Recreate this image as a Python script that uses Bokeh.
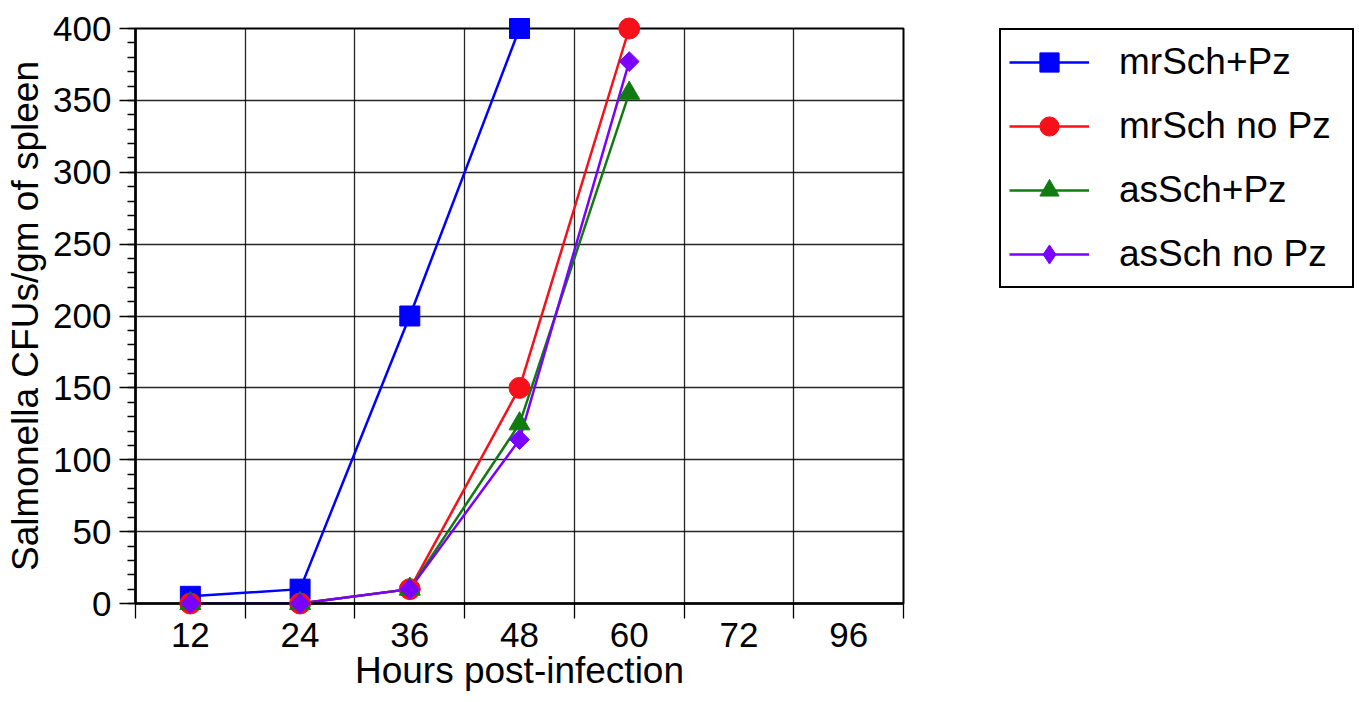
import math
from bokeh.plotting import figure
from bokeh.layouts import row
from bokeh.models import Range1d, FixedTicker, SingleIntervalTicker, Legend, LegendItem
from bokeh.embed import file_html
from bokeh.resources import INLINE

# ---- data ----
hours = ["12", "24", "36", "48", "60", "72", "96"]
mrsch_pz = [5, 10, 200, 400]
mrsch_nopz = [0, 0, 10, 150, 400]
assch_pz = [0, 0, 10, 125, 355]
assch_nopz = [0, 0, 10, 114, 377]
series_names = ["mrSch+Pz", "mrSch no Pz", "asSch+Pz", "asSch no Pz"]

FONT = "Liberation Sans"
blue, red, green, purple = "#0000FF", "#F5101A", "#127A12", "#7A00FF"

p = figure(width=940, height=702, output_backend="svg", toolbar_location=None,
           x_range=Range1d(0, len(hours)), y_range=Range1d(0, 400),
           min_border_left=135, min_border_right=37, min_border_top=28,
           min_border_bottom=99)

pos = {h: i + 0.5 for i, h in enumerate(hours)}
centers = [pos[h] for h in hours]
bounds = list(range(len(hours) + 1))


def xs(vals):
    return [pos[h] for h in hours[:len(vals)]]


# ---- axes ----
xt = FixedTicker(ticks=centers, minor_ticks=bounds)
p.xaxis.ticker = xt
p.xgrid.ticker = xt
p.xaxis.major_label_overrides = {c: h for c, h in zip(centers, hours)}
p.xaxis.major_tick_line_color = None
p.xaxis.major_tick_out = 15
p.xaxis.major_tick_in = 0
p.xaxis.minor_tick_out = 15
p.xaxis.minor_tick_in = 0
p.xaxis.minor_tick_line_color = "black"
p.xaxis.minor_tick_line_width = 1.3
p.xaxis.axis_label = "Hours post-infection"
p.xaxis.major_label_standoff = 4
p.xaxis.axis_label_standoff = 0

yt = SingleIntervalTicker(interval=50, num_minor_ticks=5)
p.yaxis.ticker = yt
p.ygrid.ticker = yt
p.yaxis.major_tick_out = 16
p.yaxis.major_tick_in = 0
p.yaxis.minor_tick_out = 8
p.yaxis.minor_tick_in = 0
p.yaxis.major_tick_line_color = "black"
p.yaxis.minor_tick_line_color = "black"
p.yaxis.major_tick_line_width = 1.3
p.yaxis.minor_tick_line_width = 1.3
p.yaxis.axis_label = "Salmonella CFUs/gm of spleen"
p.yaxis.major_label_standoff = 8
p.yaxis.axis_label_standoff = 4

for ax in (p.xaxis, p.yaxis):
    ax.axis_line_color = "black"
    ax.axis_line_width = 2.5
    ax.major_label_text_font = FONT
    ax.major_label_text_font_size = "35px"
    ax.major_label_text_color = "black"
    ax.axis_label_text_font = FONT
    ax.axis_label_text_font_size = "37px"
    ax.axis_label_text_font_style = "normal"
    ax.axis_label_text_color = "black"

p.xgrid.grid_line_color = None
p.xgrid.minor_grid_line_color = "black"
p.xgrid.minor_grid_line_width = 1.3
p.xgrid.minor_grid_line_alpha = 0.85
p.ygrid.grid_line_color = "black"
p.ygrid.grid_line_width = 1.3
p.ygrid.grid_line_alpha = 0.85

p.outline_line_color = "black"
p.outline_line_width = 2
p.outline_line_alpha = 1

# ---- series (markers on overlay level so they are not cut at the frame) ----
series = [mrsch_pz, mrsch_nopz, assch_pz, assch_nopz]
colors = [blue, red, green, purple]
for vals, col in zip(series, colors):
    p.line(xs(vals), vals, line_color=col, line_width=2.5)
p.scatter(xs(mrsch_pz), mrsch_pz, marker="square", size=20, color=blue, level="overlay")
p.scatter(xs(mrsch_nopz), mrsch_nopz, marker="circle", size=21, color=red, level="overlay")
p.scatter(xs(assch_pz), assch_pz, marker="triangle", size=21, color=green, level="overlay")
p.scatter(xs(assch_nopz), assch_nopz, marker="square", angle=math.pi / 4,
          size=14, color=purple, level="overlay")

# ---- legend panel (its series lie outside its visible range; only the legend shows) ----
q = figure(width=418, height=702, output_backend="svg", toolbar_location=None,
           x_range=Range1d(100, 101), y_range=Range1d(1000, 1001),
           x_axis_location=None, y_axis_location=None,
           min_border=0, min_border_left=0, min_border_right=0,
           min_border_top=0, min_border_bottom=0)
q.xgrid.visible = False
q.ygrid.visible = False
q.outline_line_color = None

markers = ["square", "circle", "triangle", "diamond"]
items = []
for name, vals, mk, col in zip(series_names, series, markers, colors):
    lr = q.line(xs(vals), vals, line_color=col, line_width=2.5)
    sr = q.scatter(xs(vals), vals, marker=mk, color=col)
    items.append(LegendItem(label=name, renderers=[lr, sr]))

legend = Legend(items=items, location=(59, 315), label_text_font=FONT,
                label_text_font_size="37px", label_text_color="black",
                glyph_width=80, glyph_height=48, label_height=48,
                label_standoff=30, label_width=225, spacing=16, padding=8,
                border_line_color="black", border_line_width=2, border_line_alpha=1,
                background_fill_alpha=1, margin=0)
q.add_layout(legend)

layout = row(p, q, spacing=0)
open("out.html", "w").write(file_html(layout, INLINE))
